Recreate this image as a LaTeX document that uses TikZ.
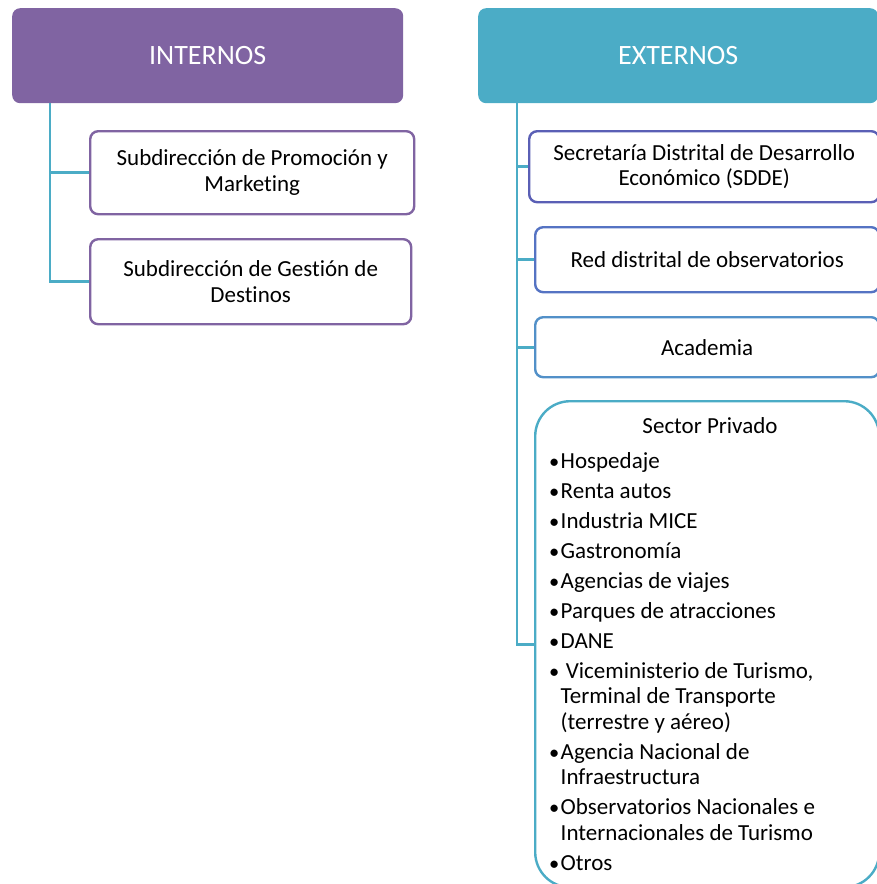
\documentclass[tikz,border=0pt]{standalone}
\usepackage{fontspec}
\setmainfont{Carlito}[Ligatures=CommonOff]
\usepackage{tikz}
\usetikzlibrary{positioning,calc}

\definecolor{morado}{HTML}{8064A2}
\definecolor{turquesa}{HTML}{4BACC6}
\definecolor{azulA}{HTML}{5A5FB5}
\definecolor{azulB}{HTML}{5573C3}
\definecolor{azulC}{HTML}{5290C8}

\newcommand{\bul}{\makebox[11.5pt][l]{\fontsize{20.5}{20}\selectfont•}}
\newcommand{\sangria}{\hspace*{11.5pt}}

\begin{document}
\begin{tikzpicture}[
  x=1pt, y=1pt,
  every node/.style={align=center},
  % Encabezados
  header/.style={
    rectangle, rounded corners=8pt, anchor=north west,
    text=white, inner sep=0pt,
    font=\fontsize{28}{32}\selectfont
  },
  % Cajas de actores
  actor/.style={
    rectangle, rounded corners=8pt, anchor=north west,
    fill=white, line width=2.4pt, inner sep=0pt,
    font=\fontsize{23}{25.5}\selectfont
  },
  % Conectores
  link/.style={draw=turquesa, line width=2.6pt},
]
\useasboundingbox (0,0) rectangle (876,-884);

% -------------------------------------------------------
% INTERNOS
% -------------------------------------------------------
\node[header, fill=morado, minimum width=391, minimum height=95] (int) at (12,-8) {INTERNOS};

\node[actor, draw=morado, minimum width=324, minimum height=83] (sub1) at (89,-130)
  {Subdirección de Promoción y\\Marketing};
\node[actor, draw=morado, minimum width=321, minimum height=85] (sub2) at (89,-238)
  {Subdirección de Gestión de\\Destinos};

\coordinate (ti) at (50,-103);
\draw[link] (ti) |- (sub1.west);
\draw[link] (ti) |- (sub2.west);

% -------------------------------------------------------
% EXTERNOS
% -------------------------------------------------------
\node[header, fill=turquesa, minimum width=400, minimum height=95] (ext) at (478,-8) {EXTERNOS};

\node[actor, draw=azulA, minimum width=350, minimum height=71] (sdde) at (528,-130)
  {Secretaría Distrital de Desarrollo\\Económico (SDDE)};
\node[actor, draw=azulB, minimum width=344, minimum height=65] (red) at (534,-226)
  {Red distrital de observatorios};
\node[actor, draw=azulC, minimum width=344, minimum height=60] (aca) at (534,-316)
  {Academia};
\node[actor, draw=turquesa, rounded corners=35pt, minimum width=344, minimum height=486] (priv) at (534,-400) {};

% Sector privado: titulo y lista
\node[font=\fontsize{23}{25.5}\selectfont, anchor=base] (privtit) at (710,-433) {Sector Privado};
\node[font=\fontsize{23}{25.5}\selectfont, align=left, anchor=north west, inner sep=0pt] (privlist) at (549,-452)
  {\bul Hospedaje\\[4.5pt]
   \bul Renta autos\\[4.5pt]
   \bul Industria MICE\\[4.5pt]
   \bul Gastronomía\\[4.5pt]
   \bul Agencias de viajes\\[4.5pt]
   \bul Parques de atracciones\\[4.5pt]
   \bul DANE\\[4.5pt]
   \bul\ Viceministerio de Turismo,\\
   \sangria Terminal de Transporte\\
   \sangria (terrestre y aéreo)\\[4.5pt]
   \bul Agencia Nacional de\\
   \sangria Infraestructura\\[4.5pt]
   \bul Observatorios Nacionales e\\
   \sangria Internacionales de Turismo\\[4.5pt]
   \bul Otros};

\coordinate (te) at (517,-103);
\draw[link] (te) |- (sdde.west);
\draw[link] (te) |- (red.west);
\draw[link] (te) |- (aca.west);
\draw[link] (te) |- (priv.west);

\end{tikzpicture}
\end{document}
